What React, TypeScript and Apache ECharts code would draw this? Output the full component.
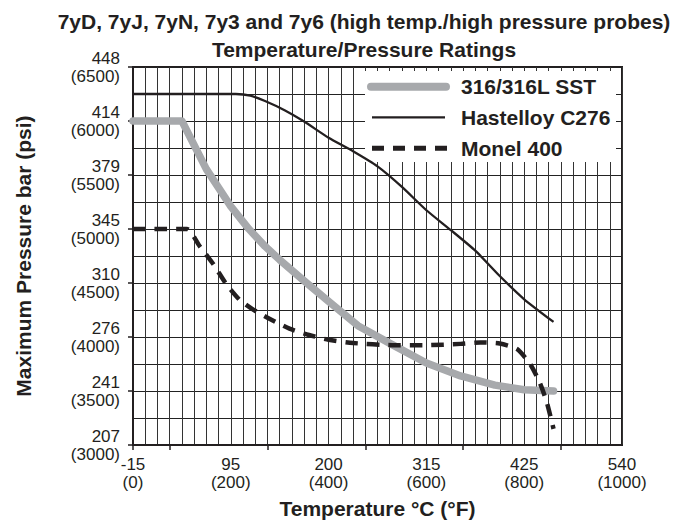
import React, { useEffect, useRef } from 'react';
import * as echarts from 'echarts';

const titleLines = [
  '7yD, 7yJ, 7yN, 7y3 and 7y6 (high temp./high pressure probes)',
  'Temperature/Pressure Ratings',
];
const seriesNames = ['316/316L SST', 'Hastelloy C276', 'Monel 400'];
const xAxisName = 'Temperature °C (°F)';
const yAxisName = 'Maximum Pressure bar (psi)';

// y axis: psi values and matching bar labels
const psiTicks = [3000, 3500, 4000, 4500, 5000, 5500, 6000, 6500];
const barTicks = ['207', '241', '276', '310', '345', '379', '414', '448'];
// x axis: °F values and matching °C labels
const fTicks = [0, 200, 400, 600, 800, 1000];
const cTicks = ['-15', '95', '200', '315', '425', '540'];
const fExtraTicks = [0, 75, 275, 475, 675, 875];

// series [°F, psi]
const sst = [
  [0, 6000], [100, 6000], [150, 5555], [200, 5210], [237, 5000], [270, 4840],
  [300, 4715], [350, 4520], [400, 4330], [460, 4105], [530, 3930], [600, 3760],
  [670, 3640], [740, 3555], [800, 3512], [860, 3500],
];
const hastelloy = [
  [0, 6250], [210, 6250], [240, 6235], [270, 6185], [310, 6100], [350, 5995],
  [400, 5845], [450, 5720], [500, 5580], [550, 5390], [600, 5174], [650, 4990],
  [700, 4800], [750, 4565], [800, 4350], [860, 4140],
];
const monel = [
  [0, 5000], [110, 5000], [135, 4850], [165, 4670], [190, 4495], [218, 4345],
  [245, 4256], [280, 4167], [320, 4078], [360, 4019], [400, 3975], [450, 3945],
  [530, 3925], [600, 3925], [670, 3937], [710, 3950], [750, 3940], [785, 3890],
  [812, 3752], [832, 3575], [846, 3400], [860, 3150],
];

const INK = '#231f20';
const GRAY = '#a7a9ac';
const FONT = '"Liberation Sans", Arial, Helvetica, sans-serif';

export default function App() {
  const ref = useRef<HTMLDivElement>(null);
  useEffect(() => {
    if (!ref.current) return;
    const chart = echarts.init(ref.current, null, { renderer: 'svg' });
    const legendRows = [86.7, 117.3, 148.3];
    const labelStyle = { fontSize: 17, lineHeight: 18, color: INK, fontFamily: FONT };
    const nameStyle = { fontFamily: FONT, fontSize: 21, fontWeight: 'bold', color: INK, lineHeight: 24 };
    const option: any = {
      animation: false,
      backgroundColor: '#ffffff',
      title: {
        text: titleLines.join('\n'),
        left: 359,
        top: 2,
        textAlign: 'center',
        textStyle: { fontFamily: FONT, fontSize: 21, fontWeight: 'bold', color: INK, lineHeight: 28 },
      },
      grid: {
        left: 133, right: 55, top: 67, bottom: 64,
        show: true, borderColor: INK, borderWidth: 2,
      },
      xAxis: [
        {
          // fine grid
          type: 'value', min: 0, max: 1000, interval: 25, position: 'bottom',
          axisLine: { show: false }, axisTick: { show: false }, axisLabel: { show: false },
          splitLine: { show: true, lineStyle: { color: '#333333', width: 1 } },
        },
        {
          type: 'value', min: 0, max: 1000, interval: 200, position: 'bottom',
          axisLine: { show: true, onZero: false, lineStyle: { color: INK, width: 2 } },
          axisTick: { show: true, customValues: fExtraTicks, length: 5, lineStyle: { color: INK, width: 1.5 } },
          axisLabel: {
            customValues: fTicks,
            formatter: (v: number) => `${cTicks[fTicks.indexOf(v)]}\n(${v})`,
            margin: 10, ...labelStyle,
          },
          splitLine: { show: false },
          name: xAxisName, nameLocation: 'middle', nameGap: 48, nameTextStyle: nameStyle,
        },
      ],
      yAxis: [
        {
          type: 'value', min: 3000, max: 6500, interval: 250, position: 'left',
          axisLine: { show: false }, axisTick: { show: false }, axisLabel: { show: false },
          splitLine: { show: true, lineStyle: { color: '#222222', width: 1.2 } },
        },
        {
          type: 'value', min: 3000, max: 6500, interval: 500, position: 'left',
          axisLine: { show: true, onZero: false, lineStyle: { color: INK, width: 2 } },
          axisTick: { show: true, customValues: psiTicks, length: 5, lineStyle: { color: INK, width: 1.5 } },
          axisLabel: {
            customValues: psiTicks,
            formatter: (v: number) => `${barTicks[psiTicks.indexOf(v)]}\n(${v})`,
            margin: 13, ...labelStyle,
          },
          splitLine: { show: false },
          name: yAxisName, nameLocation: 'middle', nameGap: 98, nameTextStyle: nameStyle,
        },
      ],
      series: [
        {
          name: seriesNames[0], type: 'line', data: sst, symbol: 'none', z: 2, smooth: false,
          lineStyle: { color: GRAY, width: 7.5, cap: 'round', join: 'round' },
        },
        {
          name: seriesNames[1], type: 'line', data: hastelloy, symbol: 'none', z: 3, smooth: 0.2,
          lineStyle: { color: INK, width: 2.3, join: 'round' },
        },
        {
          name: seriesNames[2], type: 'line', data: monel, symbol: 'none', z: 4, smooth: 0.2,
          lineStyle: { color: INK, width: 4.5, type: [12.5, 9], join: 'round' },
        },
      ],
      graphic: [
        { type: 'rect', z: 1, shape: { x: 365, y: 71, width: 251, height: 91 }, style: { fill: '#ffffff' } },
        { type: 'line', z: 5, shape: { x1: 371, y1: legendRows[0], x2: 446, y2: legendRows[0] }, style: { stroke: GRAY, lineWidth: 8, lineCap: 'round' } },
        { type: 'line', z: 5, shape: { x1: 372, y1: legendRows[1], x2: 445, y2: legendRows[1] }, style: { stroke: INK, lineWidth: 2.3 } },
        { type: 'line', z: 5, shape: { x1: 372, y1: legendRows[2], x2: 447, y2: legendRows[2] }, style: { stroke: INK, lineWidth: 5, lineDash: [12, 9] } },
        ...seriesNames.map((n, i) => ({
          type: 'text', z: 5, x: 461, y: legendRows[i],
          style: { text: n, fill: INK, font: `bold 21px ${FONT}`, verticalAlign: 'middle' },
        })),
      ],
    };
    chart.setOption(option);
    return () => chart.dispose();
  }, []);
  return (
    <div
      ref={ref}
      style={{ position: 'absolute', left: 0, top: 0, width: 677, height: 525, background: '#fff' }}
    />
  );
}
